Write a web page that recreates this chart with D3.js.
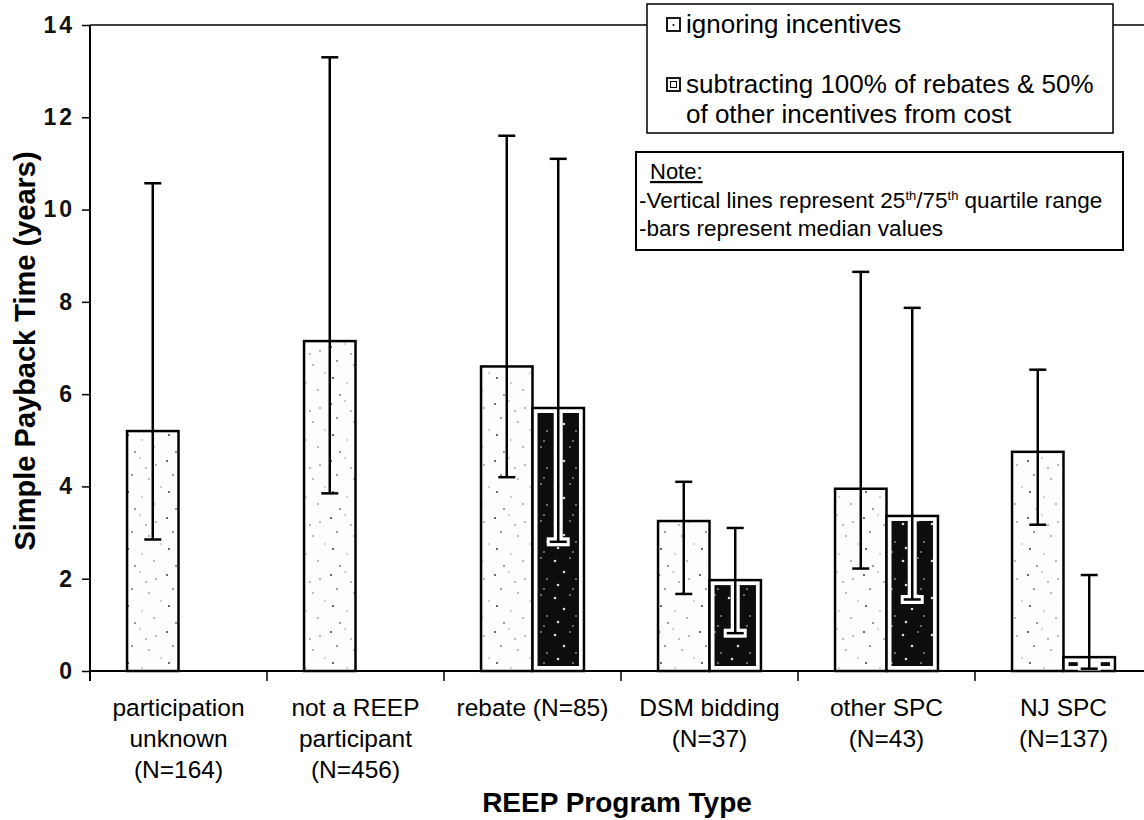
<!DOCTYPE html>
<html>
<head>
<meta charset="utf-8">
<script src="https://cdn.jsdelivr.net/npm/d3@7"></script>
<style>
  body { margin: 0; background: #fff; }
  svg { display: block; font-family: "Liberation Sans", Arial, sans-serif; }
</style>
</head>
<body>
<svg id="chart" width="1144" height="820"></svg>
<script>
// program types, one label line per array entry
var categories = ["participation unknown", "not a REEP participant", "rebate", "DSM bidding", "other SPC", "NJ SPC"];
var categoryLines = [
  ["participation", "unknown", "(N=164)"],
  ["not a REEP", "participant", "(N=456)"],
  ["rebate (N=85)"],
  ["DSM bidding", "(N=37)"],
  ["other SPC", "(N=43)"],
  ["NJ SPC", "(N=137)"]
];
var seriesNames = ["ignoring incentives", "subtracting 100% of rebates & 50%|of other incentives from cost"];

// median and 25th/75th quartiles, years
var medianIgnoring = [5.2, 7.15, 6.6, 3.25, 3.95, 4.75];
var q25Ignoring    = [2.85, 3.85, 4.2, 1.67, 2.22, 3.17];
var q75Ignoring    = [10.57, 13.3, 11.6, 4.1, 8.65, 6.53];
var medianSubtract = [null, null, 5.7, 1.97, 3.36, 0.3];
var q25Subtract    = [null, null, 2.8, 0.82, 1.55, 0.05];
var q75Subtract    = [null, null, 11.1, 3.1, 7.87, 2.08];

var yTicks = [0, 2, 4, 6, 8, 10, 12, 14];

var svg = d3.select("#chart"),
  plotLeft = 90, plotTop = 25, plotRight = 1152, plotBottom = 671;

var x = d3.scaleBand().domain(categories).range([plotLeft, plotRight]).padding(0);
var xs = d3.scaleBand().domain([0, 1]).range([0, x.bandwidth()]).paddingInner(0).paddingOuter(0.72);
var y = d3.scaleLinear().domain([0, 14]).range([plotBottom, plotTop]);

// textures (scanned print speckle)
var defs = svg.append("defs");
var light = defs.append("pattern").attr("id", "light").attr("patternUnits", "userSpaceOnUse")
  .attr("width", 41).attr("height", 57);
light.append("rect").attr("width", 41).attr("height", 57).attr("fill", "#fefefe");
[[3, 5], [17, 2], [33, 9], [9, 19], [26, 23], [38, 31], [5, 36], [19, 41], [31, 48], [12, 53], [23, 12]].forEach(function(p, i) {
  light.append("circle").attr("cx", p[0]).attr("cy", p[1]).attr("r", i % 3 ? 0.7 : 1.1).attr("fill", "#333")
    .attr("opacity", i % 2 ? 0.6 : 0.9);
});
var dark = defs.append("pattern").attr("id", "dark").attr("patternUnits", "userSpaceOnUse")
  .attr("width", 29).attr("height", 37);
dark.append("rect").attr("width", 29).attr("height", 37).attr("fill", "#0d0d0d");
[[4, 6], [19, 3], [13, 17], [25, 24], [7, 30], [22, 34]].forEach(function(p, i) {
  dark.append("circle").attr("cx", p[0]).attr("cy", p[1]).attr("r", i % 2 ? 0.8 : 1.3).attr("fill", "#ddd");
});

// frame top line
svg.append("line").attr("x1", plotLeft).attr("x2", plotRight).attr("y1", plotTop).attr("y2", plotTop)
  .attr("stroke", "#000").attr("stroke-width", 1.5);

// y axis
var yAxis = svg.append("g").attr("transform", "translate(" + plotLeft + ",0)")
  .call(d3.axisLeft(y).tickValues(yTicks).tickSize(8).tickPadding(10));
yAxis.select(".domain").remove();
yAxis.selectAll(".tick line").attr("stroke", "#000").attr("stroke-width", 1.5);
yAxis.selectAll(".tick text").attr("font-size", 23).attr("font-weight", "bold").attr("fill", "#111")
  .attr("letter-spacing", 3).attr("dx", 3)
  .attr("font-family", "Liberation Sans, Arial, sans-serif");
svg.append("line").attr("x1", plotLeft).attr("x2", plotLeft).attr("y1", plotTop).attr("y2", plotBottom + 10)
  .attr("stroke", "#000").attr("stroke-width", 2);

// x axis
svg.append("line").attr("x1", plotLeft).attr("x2", plotRight).attr("y1", plotBottom).attr("y2", plotBottom)
  .attr("stroke", "#000").attr("stroke-width", 2);
svg.selectAll(".xtick").data(categories.slice(1)).enter().append("line")
  .attr("x1", function(d) { return x(d); }).attr("x2", function(d) { return x(d); })
  .attr("y1", plotBottom).attr("y2", plotBottom + 10)
  .attr("stroke", "#000").attr("stroke-width", 1.5);

categoryLines.forEach(function(lines, i) {
  var t = svg.append("text").attr("text-anchor", "middle").attr("font-size", 24.5).attr("fill", "#000");
  lines.forEach(function(l, j) {
    t.append("tspan").attr("x", x(categories[i]) + x.bandwidth() / 2).attr("y", 716 + j * 31).text(l);
  });
});

// bars
var rows = categories.map(function(c, i) {
  return [
    { c: c, s: 0, v: medianIgnoring[i], lo: q25Ignoring[i], hi: q75Ignoring[i] },
    { c: c, s: 1, v: medianSubtract[i], lo: q25Subtract[i], hi: q75Subtract[i] }
  ];
});
var bars = [].concat.apply([], rows).filter(function(d) { return d.v != null; });

function bx(d) { return x(d.c) + xs(d.s); }

svg.selectAll(".bar").data(bars).enter().append("rect")
  .attr("x", bx).attr("y", function(d) { return y(d.v); })
  .attr("width", xs.bandwidth()).attr("height", function(d) { return y(0) - y(d.v); })
  .attr("fill", function(d) { return d.s ? "#fff" : "url(#light)"; })
  .attr("stroke", "#000").attr("stroke-width", 2.5);

var inset = 5;
svg.selectAll(".inner").data(bars.filter(function(d) { return d.s; })).enter().append("rect")
  .attr("x", function(d) { return bx(d) + inset; })
  .attr("y", function(d) { return y(d.v) + inset; })
  .attr("width", xs.bandwidth() - 2 * inset)
  .attr("height", function(d) { return Math.max(0, y(0) - y(d.v) - 2 * inset); })
  .attr("fill", "url(#dark)");

// white halo of the whiskers inside the dark bars
var capW = 17;
bars.filter(function(d) { return d.s; }).forEach(function(d) {
  var cx = bx(d) + xs.bandwidth() / 2;
  var yTop = y(d.v) + inset, yLo = Math.min(y(d.lo), y(0) - inset);
  svg.append("line").attr("x1", cx).attr("x2", cx).attr("y1", yTop).attr("y2", yLo + 4)
    .attr("stroke", "#fff").attr("stroke-width", 9);
  svg.append("line").attr("x1", cx - capW / 2 - 3).attr("x2", cx + capW / 2 + 3).attr("y1", yLo).attr("y2", yLo)
    .attr("stroke", "#fff").attr("stroke-width", 9);
});

// whiskers
var w = svg.selectAll(".whisker").data(bars).enter().append("g")
  .attr("transform", function(d) { return "translate(" + (bx(d) + xs.bandwidth() / 2) + ",0)"; })
  .attr("stroke", "#000").attr("stroke-width", 2.5);
w.append("line").attr("y1", function(d) { return y(d.lo); }).attr("y2", function(d) { return y(d.hi); });
w.append("line").attr("x1", -capW / 2).attr("x2", capW / 2)
  .attr("y1", function(d) { return y(d.hi); }).attr("y2", function(d) { return y(d.hi); });
w.append("line").attr("x1", -capW / 2).attr("x2", capW / 2)
  .attr("y1", function(d) { return y(d.lo); }).attr("y2", function(d) { return y(d.lo); });

// axis titles
svg.append("text").attr("transform", "translate(35,351) rotate(-90)").attr("text-anchor", "middle")
  .attr("font-size", 29).attr("font-weight", "bold").text("Simple Payback Time (years)");
svg.append("text").attr("x", 617).attr("y", 812).attr("text-anchor", "middle")
  .attr("font-size", 28).attr("font-weight", "bold").text("REEP Program Type");

// legend
var lg = svg.append("g");
lg.append("rect").attr("x", 647).attr("y", 4).attr("width", 466).attr("height", 129)
  .attr("fill", "#fff").attr("stroke", "#000").attr("stroke-width", 1.5);
lg.append("rect").attr("x", 667).attr("y", 18).attr("width", 13).attr("height", 13)
  .attr("fill", "#fff").attr("stroke", "#000").attr("stroke-width", 1.8);
lg.append("circle").attr("cx", 673.5).attr("cy", 25).attr("r", 1).attr("fill", "#000");
lg.append("rect").attr("x", 667).attr("y", 78).attr("width", 13).attr("height", 13)
  .attr("fill", "#fff").attr("stroke", "#000").attr("stroke-width", 1.8);
lg.append("rect").attr("x", 670.5).attr("y", 81.5).attr("width", 6).attr("height", 6)
  .attr("fill", "none").attr("stroke", "#000").attr("stroke-width", 1);
lg.append("text").attr("x", 686).attr("y", 33).attr("font-size", 26).text(seriesNames[0]);
var l2 = lg.append("text").attr("font-size", 26);
seriesNames[1].split("|").forEach(function(s, j) {
  l2.append("tspan").attr("x", 686).attr("y", 93 + j * 30).text(s);
});

// note box
var nb = svg.append("g");
nb.append("rect").attr("x", 636).attr("y", 152).attr("width", 487).attr("height", 98)
  .attr("fill", "#fff").attr("stroke", "#000").attr("stroke-width", 2);
nb.append("text").attr("x", 650).attr("y", 179).attr("font-size", 22).attr("text-decoration", "underline").text("Note:");
var n2 = nb.append("text").attr("x", 639).attr("y", 208).attr("font-size", 22.5);
n2.append("tspan").text("-Vertical lines represent 25");
n2.append("tspan").attr("font-size", 13).attr("dy", -8).text("th");
n2.append("tspan").attr("dy", 8).text("/75");
n2.append("tspan").attr("font-size", 13).attr("dy", -8).text("th");
n2.append("tspan").attr("dy", 8).text(" quartile range");
nb.append("text").attr("x", 639).attr("y", 236).attr("font-size", 22.5).text("-bars represent median values");
</script>
</body>
</html>
